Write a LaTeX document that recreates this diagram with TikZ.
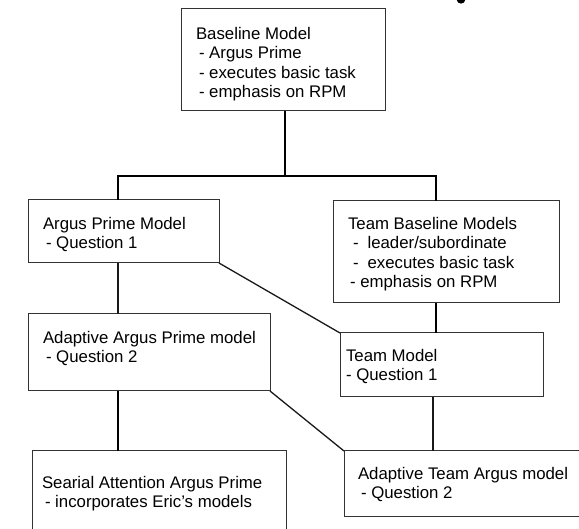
\documentclass[tikz,border=0pt]{standalone}
\usepackage{fontspec}
\setmainfont{Liberation Sans}
\begin{document}
\begin{tikzpicture}[x=1pt,y=-1pt,
  box/.style={draw=black!80,line width=1pt,inner sep=0pt,outer sep=0pt,anchor=north west},
  txt/.style={inner sep=0pt,outer sep=0pt,anchor=north west,align=left,font=\fontsize{16.8}{19.5}\selectfont},
  thickline/.style={line width=1.9pt,black},
  thinline/.style={line width=1.3pt,black!90}]
\useasboundingbox (0,0) rectangle (579,529);
\clip (0,0) rectangle (579,529);
% cut-off fragment at the top edge
\fill[black] (461,0) ellipse [x radius=4.2, y radius=3.6];
% boxes
\node[box,minimum width=204pt,minimum height=102pt] (base) at (181,9) {};
\node[box,minimum width=191pt,minimum height=63pt] (ap) at (28,200) {};
\node[box,minimum width=226pt,minimum height=102pt] (tb) at (333,201) {};
\node[box,minimum width=242pt,minimum height=77pt] (aap) at (28,314) {};
\node[box,minimum width=203pt,minimum height=64pt] (tm) at (340,333) {};
\node[box,minimum width=254pt,minimum height=100pt] (sa) at (32,451) {};
\node[box,minimum width=260pt,minimum height=66pt] (at) at (344,451) {};
% texts
\node[txt] (tbase) at (196,27) {Baseline Model\\\hspace*{3pt}- Argus Prime\\\hspace*{3pt}- executes basic task\\\hspace*{3pt}- emphasis on RPM};
\node[txt] (tap) at (43,217) {Argus Prime Model\\\hspace*{3pt}- Question 1};
\node[txt] (ttb) at (348,217) {Team Baseline Models\\\hspace*{5pt}-\hspace*{9pt}leader/subordinate\\\hspace*{5pt}-\hspace*{9pt}executes basic task\\\hspace*{2pt}- emphasis on RPM};
\node[txt] (taap) at (43,331) {Adaptive Argus Prime model\\\hspace*{3pt}- Question 2};
\node[txt] (ttm) at (346,349) {Team Model\\- Question 1};
\node[txt] (tsa) at (42,476) {Searial Attention Argus Prime\\\hspace*{3pt}- incorporates Eric’s models};
\node[txt] (tat) at (358,467) {Adaptive Team Argus model\\\hspace*{3pt}- Question 2};
% junction coordinates
\coordinate (j1) at (118,176);
\coordinate (j2) at (436,176);
\coordinate (j3) at (433,0);
\coordinate (j0) at (285,0);
% connectors
\draw[thickline] (base.south -| j0) -- (j0 |- j1);
\draw[thickline] (ap.north -| j1) -- (j1) -- (j2) -- (tb.north -| j2);
\draw[thinline] (ap.south -| j1) -- (aap.north -| j1);
\draw[thinline] (ap.south east) -- (tm.north west);
\draw[thickline] (tb.south -| j2) -- (tm.north -| j2);
\draw[thickline] (aap.south -| j1) -- (sa.north -| j1);
\draw[thinline] (aap.south east) -- (at.north west);
\draw[thinline] (tm.south -| j3) -- (at.north -| j3);
\end{tikzpicture}
\end{document}
